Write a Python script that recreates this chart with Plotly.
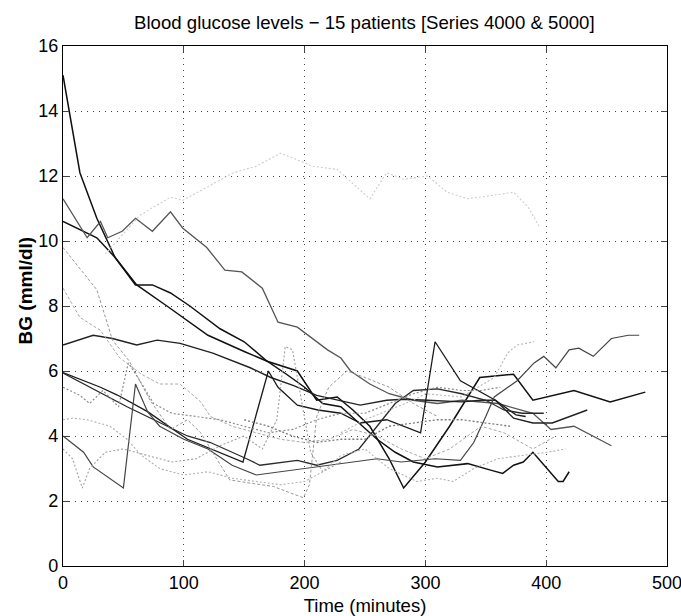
import plotly.graph_objects as go

# ---- data (time in minutes, BG in mmol/l) ----
p1_x = [0, 14, 28, 43, 60, 74, 89, 105, 130, 150, 169, 194, 210, 227, 240, 254, 270, 282, 300, 320, 345, 373, 389, 423, 453, 482]
p1_y = [15.1, 12.1, 10.7, 9.5, 8.65, 8.65, 8.4, 8.0, 7.3, 6.9, 6.3, 6.0, 5.1, 5.2, 4.8, 4.3, 3.3, 2.4, 3.2, 4.3, 5.8, 5.9, 5.1, 5.4, 5.05, 5.35]

p2_x = [0, 28, 43, 61, 86, 120, 150, 169, 185, 200, 215, 230, 245, 260, 275, 290, 310, 335, 354, 364, 373, 381, 389, 410, 414, 419]
p2_y = [10.6, 10.1, 9.5, 8.65, 8.0, 7.1, 6.6, 6.3, 5.9, 5.5, 5.0, 4.9, 4.4, 3.9, 3.5, 3.2, 3.05, 3.15, 2.95, 2.85, 3.1, 3.2, 3.5, 2.6, 2.6, 2.9]

p3_x = [0, 20, 31, 37, 49, 60, 74, 89, 99, 119, 134, 148, 165, 178, 194, 219, 230, 238, 254, 270, 290, 310, 330, 360, 389, 404, 423, 454]
p3_y = [11.3, 10.1, 10.6, 10.1, 10.3, 10.7, 10.3, 10.9, 10.4, 9.8, 9.1, 9.05, 8.55, 7.5, 7.35, 6.65, 6.4, 6.0, 5.6, 5.3, 5.1, 5.0, 5.1, 5.0, 4.7, 4.2, 4.3, 3.7]

p4_x = [0, 25, 41, 61, 78, 97, 124, 155, 172, 191, 210, 227, 246, 268, 282, 302, 330, 346, 358, 373, 389, 405, 434]
p4_y = [6.8, 7.1, 7.0, 6.8, 6.95, 6.85, 6.55, 6.1, 5.8, 5.55, 5.25, 5.1, 4.95, 5.1, 5.13, 5.1, 5.05, 5.1, 5.1, 4.55, 4.4, 4.4, 4.8]

p5_x = [0, 31, 45, 70, 103, 130, 149, 170, 178, 194, 211, 230, 246, 268, 288, 296, 308, 329, 358, 375, 383]
p5_y = [5.95, 5.5, 5.26, 4.75, 3.9, 3.5, 3.2, 6.0, 5.5, 4.95, 4.8, 4.7, 4.4, 4.5, 4.2, 4.1, 6.9, 5.7, 5.1, 4.65, 4.6]

p6_x = [0, 53, 103, 122, 152, 163, 194, 210, 227, 245, 260, 275, 290, 310, 330, 350, 365, 380, 398]
p6_y = [5.94, 4.9, 4.0, 3.8, 3.3, 3.1, 3.25, 3.1, 3.25, 3.6, 4.3, 5.0, 5.4, 5.45, 5.3, 5.1, 4.8, 4.7, 4.7]

p7_x = [0, 17, 25, 39, 50, 60, 70, 80, 100, 120, 140, 160, 180, 200, 220, 240, 260, 280, 308, 329, 340, 350, 357, 376, 390, 398, 408, 419, 427, 439, 454, 468, 477]
p7_y = [4.0, 3.5, 3.05, 2.7, 2.4, 5.6, 4.75, 4.3, 3.9, 3.6, 3.1, 2.8, 2.9, 3.0, 3.1, 3.2, 3.3, 3.2, 3.3, 3.25, 3.8, 4.6, 5.2, 5.7, 6.25, 6.45, 6.1, 6.65, 6.7, 6.45, 7.0, 7.1, 7.1]

d1_x = [35, 64, 89, 99, 119, 141, 160, 180, 207, 227, 254, 268, 282, 302, 318, 335, 355, 373, 385, 395]
d1_y = [9.6, 10.8, 11.35, 11.25, 11.65, 12.1, 12.3, 12.7, 12.3, 12.2, 11.3, 12.1, 11.9, 12.0, 11.5, 11.3, 11.4, 11.5, 11.05, 10.4]

d2_x = [0, 28, 41, 55, 72, 89, 103, 114, 128, 138, 155, 174, 188, 199, 204, 210, 220, 235, 250, 270, 290, 310]
d2_y = [9.8, 8.5, 6.95, 6.3, 5.1, 4.2, 4.5, 4.1, 3.25, 2.65, 2.55, 2.45, 2.25, 2.1, 2.5, 4.6, 5.5, 6.0, 5.8, 5.5, 5.0, 4.6]

d3_x = [0, 14, 31, 47, 65, 80, 97, 114, 122, 140, 160, 180, 200, 220, 240, 260, 280, 300, 320, 346, 365, 389, 408]
d3_y = [8.55, 7.65, 7.25, 6.4, 5.9, 5.6, 5.6, 5.05, 4.6, 4.3, 4.1, 3.9, 3.8, 3.9, 4.2, 4.0, 3.6, 3.3, 3.6, 4.3, 4.1, 3.6, 4.0]

d4_x = [0, 8, 20, 39, 53, 65, 80, 100, 120, 140, 160, 180, 200, 215, 230, 250, 270, 293, 310, 323, 340, 360, 380, 401, 416]
d4_y = [4.5, 4.55, 4.5, 4.3, 3.9, 3.4, 3.0, 2.8, 2.9, 2.7, 2.6, 2.5, 2.6, 2.9, 3.4, 3.6, 3.0, 2.6, 2.7, 2.6, 3.0, 3.3, 3.4, 3.5, 3.6]

d5_x = [0, 14, 22, 33, 46, 54, 62, 75, 90, 110, 130, 150, 170, 190, 210, 230, 250, 270, 290, 310, 330, 346, 362]
d5_y = [5.5, 5.25, 5.0, 5.4, 4.9, 6.25, 5.8, 5.0, 4.7, 4.6, 4.5, 4.3, 4.1, 4.2, 4.5, 4.7, 4.7, 5.0, 5.3, 5.5, 5.4, 5.4, 5.5]

d6_x = [0, 8, 11, 16, 22, 35, 50, 70, 90, 110, 130, 150, 165, 177, 184, 190, 196, 205, 215, 230]
d6_y = [3.6, 3.3, 2.95, 2.4, 3.0, 3.5, 3.6, 3.4, 3.2, 3.3, 3.7, 4.0, 3.6, 4.5, 6.75, 6.65, 5.4, 3.5, 2.9, 3.2]

d7_x = [150, 170, 190, 210, 230, 250, 270, 290, 310, 330, 350, 370]
d7_y = [4.5, 4.3, 4.0, 3.8, 3.9, 3.9, 4.3, 4.4, 4.5, 4.5, 4.4, 4.3]

d8_x = [230, 250, 270, 290, 300, 330, 357, 368, 376, 390]
d8_y = [4.1, 4.5, 4.8, 5.1, 5.3, 5.2, 5.8, 6.55, 6.8, 6.9]

x_ticks = [0, 100, 200, 300, 400, 500]
y_ticks = [0, 2, 4, 6, 8, 10, 12, 14, 16]

series = [
    (p1_x, p1_y, "#111111", "solid", 1.5),
    (p2_x, p2_y, "#111111", "solid", 1.5),
    (p3_x, p3_y, "#555555", "solid", 1.3),
    (p4_x, p4_y, "#222222", "solid", 1.4),
    (p5_x, p5_y, "#1a1a1a", "solid", 1.3),
    (p6_x, p6_y, "#2a2a2a", "solid", 1.3),
    (p7_x, p7_y, "#444444", "solid", 1.2),
    (d1_x, d1_y, "#cdcdcd", "2px,2px", 1.1),
    (d2_x, d2_y, "#999999", "3px,2px", 1.0),
    (d3_x, d3_y, "#a8a8a8", "3px,2px", 1.0),
    (d4_x, d4_y, "#b0b0b0", "2px,2px", 1.1),
    (d5_x, d5_y, "#8c8c8c", "2px,2px", 1.2),
    (d6_x, d6_y, "#a0a0a0", "2px,2px", 1.1),
    (d7_x, d7_y, "#7a7a7a", "2px,2px", 1.3),
    (d8_x, d8_y, "#b8b8b8", "2px,2px", 1.1),
]

fig = go.Figure()
for xs, ys, col, dash, w in series:
    fig.add_trace(go.Scatter(x=xs, y=ys, mode="lines",
                             line=dict(color=col, dash=dash, width=w),
                             showlegend=False, hoverinfo="skip"))

font_family = "Liberation Sans, Arial, sans-serif"

fig.update_layout(
    width=681, height=616,
    margin=dict(l=63, r=14, t=46, b=50),
    plot_bgcolor="white", paper_bgcolor="white",
    font=dict(family=font_family, size=17, color="black"),
    title=dict(text="Blood glucose levels − 15 patients [Series 4000 & 5000]",
               x=0.535, xanchor="center", y=0.963, yanchor="middle",
               font=dict(size=18.6, family=font_family)),
    annotations=[dict(text="<b>BG (mml/dl)</b>", xref="paper", yref="paper",
                      x=-0.062, y=0.529, xanchor="center", yanchor="middle",
                      textangle=-90, showarrow=False,
                      font=dict(size=19, family=font_family))],
)
fig.update_xaxes(range=[0, 500], tickvals=x_ticks, ticks="inside", ticklen=6,
                 showline=True, linecolor="black", linewidth=1.2, mirror="ticks",
                 showgrid=True, gridcolor="#444444", griddash="1px,5px", gridwidth=1,
                 zeroline=False, ticklabeloverflow="allow", automargin=False,
                 title=dict(text="Time (minutes)", standoff=10, font=dict(size=18.5)),
                 tickfont=dict(size=18))
fig.update_yaxes(range=[0, 16], tickvals=y_ticks, ticks="inside", ticklen=6,
                 showline=True, linecolor="black", linewidth=1.2, mirror="ticks",
                 showgrid=True, gridcolor="#444444", griddash="1px,5px", gridwidth=1,
                 zeroline=False, automargin=False,
                 tickfont=dict(size=18))

fig.write_html("out.html")
